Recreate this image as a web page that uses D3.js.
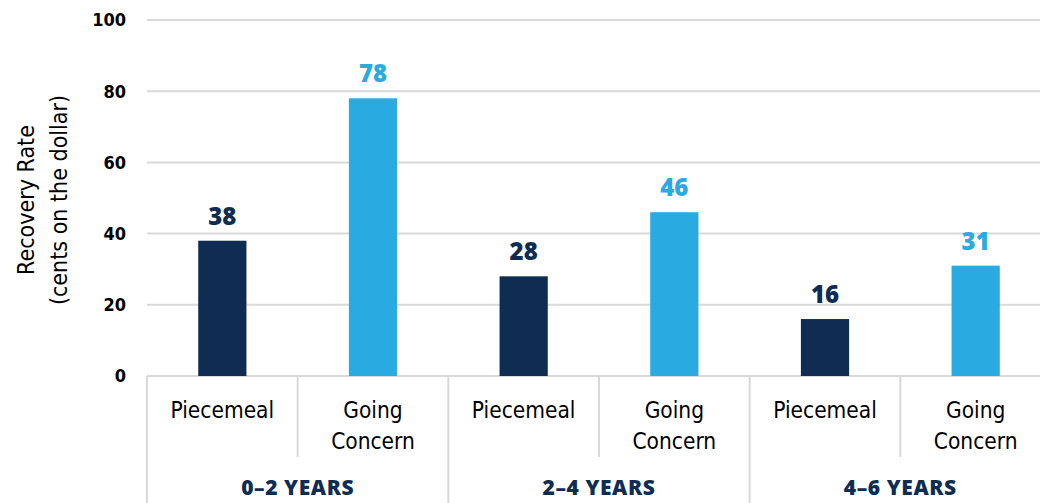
<!DOCTYPE html>
<html><head><meta charset="utf-8">
<script src="https://cdn.jsdelivr.net/npm/d3@7"></script>
<style>
body{margin:0;background:#fff;}
svg{display:block;}
</style></head>
<body>
<svg id="chart" width="1040" height="503"></svg>
<script>
const groups = ["0–2 YEARS", "2–4 YEARS", "4–6 YEARS"];
const types = ["Piecemeal", "Going Concern"];
const piecemeal = [38, 28, 16];
const goingConcern = [78, 46, 31];
const yTicks = [0, 20, 40, 60, 80, 100];

const navy = "#0f2d52", blue = "#29abe2", grid = "#d9d9d9";
const condensed = "'DejaVu Sans Condensed','DejaVu Sans',sans-serif";
const heading = "'Open Sans',Lato,sans-serif";

const data = [];
groups.forEach((g, i) => {
  data.push({group: g, type: types[0], key: g + "|" + types[0], value: piecemeal[i], color: navy});
  data.push({group: g, type: types[1], key: g + "|" + types[1], value: goingConcern[i], color: blue});
});

const svg = d3.select("#chart");
const mLeft = 147, mRight = 1051, mTop = 20, mBottom = 376;

const x = d3.scaleBand().domain(data.map(d => d.key)).range([mLeft, mRight]).paddingInner(0.68).paddingOuter(0.34);
const xGroup = d3.scaleBand().domain(groups).range([mLeft, mRight]);
const y = d3.scaleLinear().domain([0, 100]).range([mBottom, mTop]);

// gridlines
svg.append("g").selectAll("line").data(yTicks).join("line")
  .attr("x1", mLeft).attr("x2", mRight)
  .attr("y1", d => y(d)).attr("y2", d => y(d))
  .attr("stroke", grid).attr("stroke-width", 2);

// y tick labels
svg.append("g").selectAll("text").data(yTicks).join("text")
  .attr("x", 126).attr("y", d => y(d)).attr("dy", "0.36em")
  .attr("text-anchor", "end")
  .style("font-family", condensed).style("font-stretch", "condensed").style("font-weight", "bold").style("font-size", "18px")
  .attr("fill", "#000").text(d => d);

// axis title
const title = svg.append("text")
  .attr("transform", `translate(44,${(mTop + mBottom) / 2 + 2}) rotate(-90)`)
  .attr("text-anchor", "middle")
  .style("font-family", condensed).style("font-stretch", "condensed").style("font-size", "23px").attr("fill", "#000");
title.append("tspan").attr("x", 0).attr("dy", "-0.42em").text("Recovery Rate");
title.append("tspan").attr("x", 0).attr("dy", "1.4em").text("(cents on the dollar)");

// bars
svg.append("g").selectAll("rect").data(data).join("rect")
  .attr("x", d => x(d.key)).attr("width", x.bandwidth())
  .attr("y", d => y(d.value)).attr("height", d => y(0) - y(d.value))
  .attr("fill", d => d.color);

// value labels
svg.append("g").selectAll("text").data(data).join("text")
  .attr("x", d => x(d.key) + x.bandwidth() / 2)
  .attr("y", d => y(d.value) - 16)
  .attr("text-anchor", "middle")
  .style("font-family", heading).style("font-weight", "800").style("font-size", "24px")
  .attr("fill", d => d.color).text(d => d.value);

// category separators
const catW = (mRight - mLeft) / data.length;
const seps = d3.range(data.length + 1);
svg.append("g").selectAll("line").data(seps).join("line")
  .attr("x1", i => mLeft + i * catW).attr("x2", i => mLeft + i * catW)
  .attr("y1", mBottom).attr("y2", i => i % 2 === 0 ? 503 : 457)
  .attr("stroke", grid).attr("stroke-width", 2);

// category labels
const cat = svg.append("g").selectAll("text").data(data).join("text")
  .attr("x", d => x(d.key) + x.bandwidth() / 2)
  .attr("y", 418)
  .attr("text-anchor", "middle")
  .style("font-family", condensed).style("font-stretch", "condensed").style("font-size", "22.5px").attr("fill", "#000");
cat.each(function(d) {
  const words = d.type.split(" ");
  const t = d3.select(this);
  words.forEach((w, i) => t.append("tspan").attr("x", x(d.key) + x.bandwidth() / 2).attr("dy", i === 0 ? 0 : 31).text(w));
});

// group labels
svg.append("g").selectAll("text").data(groups).join("text")
  .attr("x", d => xGroup(d) + xGroup.bandwidth() / 2)
  .attr("y", 495)
  .attr("text-anchor", "middle")
  .style("font-family", heading).style("font-weight", "800").style("font-size", "21px")
  .style("letter-spacing", "0.6px")
  .attr("fill", navy).text(d => d);
</script>
</body></html>
